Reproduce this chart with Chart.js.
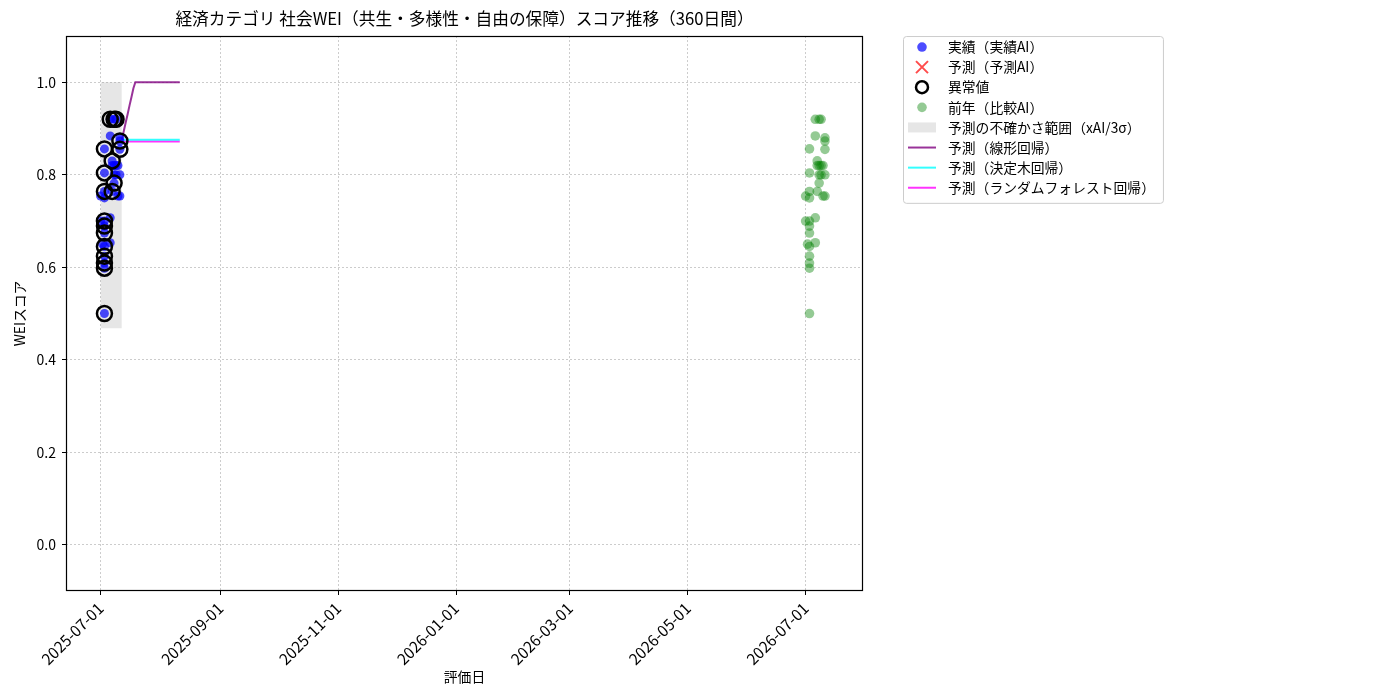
<!DOCTYPE html>
<html lang="ja">
<head>
<meta charset="UTF-8" />
<title>社会WEI スコア推移</title>
<script src="https://cdn.jsdelivr.net/npm/chart.js"></script>
<style>
  body { margin: 0; background: #fff; }
</style>
</head>
<body>
<canvas id="weiChart" width="1400" height="700"></canvas>
<script>
const DAY = 86400000;
function toDay(s) { return Date.parse(s + "T00:00:00Z") / DAY; }
function fmtDay(v) { return new Date(Math.round(v) * DAY).toISOString().slice(0, 10); }

// 実績（実績AI）
const actualDates = [
  "2025-07-01", "2025-07-01", "2025-07-02",
  "2025-07-03", "2025-07-03", "2025-07-03", "2025-07-03", "2025-07-03", "2025-07-03",
  "2025-07-03", "2025-07-03", "2025-07-03", "2025-07-03", "2025-07-03", "2025-07-03",
  "2025-07-06", "2025-07-06", "2025-07-06", "2025-07-06",
  "2025-07-07", "2025-07-07", "2025-07-07",
  "2025-07-08", "2025-07-08", "2025-07-08", "2025-07-08",
  "2025-07-09", "2025-07-09", "2025-07-09",
  "2025-07-10", "2025-07-10",
  "2025-07-11", "2025-07-11", "2025-07-11", "2025-07-11", "2025-07-11"
];
const actualValues = [
  0.754, 0.700, 0.650,
  0.856, 0.804, 0.764, 0.750, 0.700, 0.689,
  0.674, 0.645, 0.624, 0.609, 0.598, 0.500,
  0.707, 0.653, 0.884, 0.920,
  0.830, 0.764, 0.820,
  0.920, 0.800, 0.820, 0.782,
  0.920, 0.820, 0.800,
  0.754, 0.820,
  0.873, 0.855, 0.880, 0.800, 0.754
];
// 異常値フラグ
const outlierFlags = [
  0, 0, 0,
  1, 1, 1, 0, 1, 1,
  1, 1, 1, 1, 1, 1,
  0, 0, 0, 1,
  1, 1, 0,
  1, 0, 0, 1,
  1, 0, 0,
  0, 0,
  1, 1, 0, 0, 0
];

// 前年（比較AI）
const prevDates = [
  "2026-07-01", "2026-07-01", "2026-07-02",
  "2026-07-03", "2026-07-03", "2026-07-03", "2026-07-03", "2026-07-03", "2026-07-03",
  "2026-07-03", "2026-07-03", "2026-07-03", "2026-07-03", "2026-07-03", "2026-07-03",
  "2026-07-06", "2026-07-06", "2026-07-06", "2026-07-06",
  "2026-07-07", "2026-07-07", "2026-07-07",
  "2026-07-08", "2026-07-08", "2026-07-08", "2026-07-08",
  "2026-07-09", "2026-07-09", "2026-07-09",
  "2026-07-10", "2026-07-10",
  "2026-07-11", "2026-07-11", "2026-07-11", "2026-07-11", "2026-07-11"
];
const prevValues = [
  0.754, 0.700, 0.650,
  0.856, 0.804, 0.764, 0.750, 0.700, 0.689,
  0.674, 0.645, 0.624, 0.609, 0.598, 0.500,
  0.707, 0.653, 0.884, 0.920,
  0.830, 0.764, 0.820,
  0.920, 0.800, 0.820, 0.782,
  0.920, 0.820, 0.800,
  0.754, 0.820,
  0.873, 0.855, 0.880, 0.800, 0.754
];

// 予測（30日間）
const forecastDates = [
  "2025-07-12", "2025-07-13", "2025-07-14", "2025-07-15", "2025-07-16", "2025-07-17",
  "2025-07-18", "2025-07-19", "2025-07-20", "2025-07-21", "2025-07-22", "2025-07-23",
  "2025-07-24", "2025-07-25", "2025-07-26", "2025-07-27", "2025-07-28", "2025-07-29",
  "2025-07-30", "2025-07-31", "2025-08-01", "2025-08-02", "2025-08-03", "2025-08-04",
  "2025-08-05", "2025-08-06", "2025-08-07", "2025-08-08", "2025-08-09", "2025-08-10",
  "2025-08-11"
];
const linearPred = [
  0.876, 0.894, 0.913, 0.931, 0.950, 0.968,
  0.987, 1.000, 1.000, 1.000, 1.000, 1.000,
  1.000, 1.000, 1.000, 1.000, 1.000, 1.000,
  1.000, 1.000, 1.000, 1.000, 1.000, 1.000,
  1.000, 1.000, 1.000, 1.000, 1.000, 1.000,
  1.000
];
const treePred = [
  0.876, 0.876, 0.876, 0.876, 0.876, 0.876,
  0.876, 0.876, 0.876, 0.876, 0.876, 0.876,
  0.876, 0.876, 0.876, 0.876, 0.876, 0.876,
  0.876, 0.876, 0.876, 0.876, 0.876, 0.876,
  0.876, 0.876, 0.876, 0.876, 0.876, 0.876,
  0.876
];
const forestPred = [
  0.872, 0.872, 0.872, 0.872, 0.872, 0.872,
  0.872, 0.872, 0.872, 0.872, 0.872, 0.872,
  0.872, 0.872, 0.872, 0.872, 0.872, 0.872,
  0.872, 0.872, 0.872, 0.872, 0.872, 0.872,
  0.872, 0.872, 0.872, 0.872, 0.872, 0.872,
  0.872
];

// 予測の不確かさ範囲（xAI/3σ）
const bandDates = ["2025-07-01", "2025-07-12"];
const bandLower = [0.468, 0.468];
const bandUpper = [1.0, 1.0];

const xTickLabels = [
  "2025-07-01", "2025-09-01", "2025-11-01", "2026-01-01",
  "2026-03-01", "2026-05-01", "2026-07-01"
];
const yTickValues = [0.0, 0.2, 0.4, 0.6, 0.8, 1.0];

function points(dates, values) {
  return dates.map((d, i) => ({ x: toDay(d), y: values[i] }));
}

const actualPoints = points(actualDates, actualValues);
const outlierPoints = actualPoints.filter((p, i) => outlierFlags[i]);

Chart.defaults.font.family = '"Noto Sans CJK JP", "Noto Sans", sans-serif';
Chart.defaults.font.size = 14;
Chart.defaults.color = "#000";

const data = {
  datasets: [
    {
      label: "異常値",
      legendKind: "ring",
      data: outlierPoints,
      pointRadius: 7.5,
      pointHoverRadius: 7.5,
      pointBackgroundColor: "rgba(0,0,0,0)",
      pointBorderColor: "#000",
      pointBorderWidth: 2.5,
      order: 0,
    },
    {
      label: "実績（実績AI）",
      legendKind: "dot",
      data: actualPoints,
      pointRadius: 4.5,
      pointBackgroundColor: "rgba(0,0,255,0.7)",
      pointBorderColor: "rgba(0,0,255,0.7)",
      pointBorderWidth: 0,
      order: 1,
    },
    {
      label: "予測（予測AI）",
      legendKind: "cross",
      data: [],
      pointStyle: "crossRot",
      pointBorderColor: "rgba(255,0,0,0.7)",
      order: 2,
    },
    {
      label: "前年（比較AI）",
      legendKind: "dot",
      data: points(prevDates, prevValues),
      pointRadius: 4.8,
      pointBackgroundColor: "rgba(0,128,0,0.42)",
      pointBorderColor: "rgba(0,128,0,0.42)",
      pointBorderWidth: 0,
      order: 3,
    },
    {
      type: "line",
      label: "予測の不確かさ範囲上限",
      data: points(bandDates, bandUpper),
      borderWidth: 0,
      borderColor: "rgba(0,0,0,0)",
      pointRadius: 0,
      fill: false,
      order: 8,
    },
    {
      type: "line",
      label: "予測の不確かさ範囲（xAI/3σ）",
      legendKind: "rect",
      data: points(bandDates, bandLower),
      borderWidth: 0,
      borderColor: "rgba(0,0,0,0)",
      backgroundColor: "rgba(128,128,128,0.2)",
      pointRadius: 0,
      fill: "-1",
      order: 9,
    },
    {
      type: "line",
      label: "予測（線形回帰）",
      legendKind: "line",
      data: points(forecastDates, linearPred),
      borderColor: "rgba(128,0,128,0.8)",
      borderWidth: 2,
      pointRadius: 0,
      fill: false,
      order: 4,
    },
    {
      type: "line",
      label: "予測（決定木回帰）",
      legendKind: "line",
      data: points(forecastDates, treePred),
      borderColor: "rgba(0,255,255,0.8)",
      borderWidth: 2,
      pointRadius: 0,
      fill: false,
      order: 5,
    },
    {
      type: "line",
      label: "予測（ランダムフォレスト回帰）",
      legendKind: "line",
      data: points(forecastDates, forestPred),
      borderColor: "rgba(255,0,255,0.8)",
      borderWidth: 2,
      pointRadius: 0,
      fill: false,
      order: 6,
    },
  ],
};

// legend order as in the original figure
const legendOrder = [
  "実績（実績AI）", "予測（予測AI）", "異常値", "前年（比較AI）",
  "予測の不確かさ範囲（xAI/3σ）", "予測（線形回帰）", "予測（決定木回帰）",
  "予測（ランダムフォレスト回帰）"
];

const frameAndLegend = {
  id: "frameAndLegend",
  afterDraw(chart) {
    const ctx = chart.ctx;
    const area = chart.chartArea;

    // box around the plot (all four sides)
    ctx.save();
    ctx.strokeStyle = "#000";
    ctx.lineWidth = 1.2;
    ctx.strokeRect(Math.round(area.left) + 0.5, Math.round(area.top) + 0.5,
      Math.round(area.right - area.left) - 1, Math.round(area.bottom - area.top) - 1);
    ctx.restore();

    // legend outside on the right
    const items = legendOrder.map((name) => chart.data.datasets.find((ds) => ds.label === name));
    ctx.save();
    ctx.font = "13.8px " + Chart.defaults.font.family;
    let maxW = 0;
    items.forEach((ds) => { maxW = Math.max(maxW, ctx.measureText(ds.label).width); });
    const x0 = area.right + 40, y0 = area.top;
    const rowH = 20.1;
    const w = 45 + maxW + 8, h = items.length * rowH + 6;

    ctx.fillStyle = "rgba(255,255,255,0.8)";
    ctx.strokeStyle = "#cccccc";
    ctx.lineWidth = 1;
    ctx.beginPath();
    ctx.roundRect(x0 + 0.5, y0 + 0.5, w, h, 3);
    ctx.fill();
    ctx.stroke();

    items.forEach((ds, i) => {
      const cy = y0 + 11 + i * rowH;
      const cx = x0 + 19;
      ctx.save();
      if (ds.legendKind === "dot") {
        ctx.fillStyle = ds.pointBackgroundColor;
        ctx.beginPath();
        ctx.arc(cx, cy, 4.8, 0, Math.PI * 2);
        ctx.fill();
      } else if (ds.legendKind === "ring") {
        ctx.strokeStyle = ds.pointBorderColor;
        ctx.lineWidth = 2.5;
        ctx.beginPath();
        ctx.arc(cx, cy, 6, 0, Math.PI * 2);
        ctx.stroke();
      } else if (ds.legendKind === "cross") {
        ctx.strokeStyle = ds.pointBorderColor;
        ctx.lineWidth = 2;
        ctx.beginPath();
        ctx.moveTo(cx - 6, cy - 6); ctx.lineTo(cx + 6, cy + 6);
        ctx.moveTo(cx + 6, cy - 6); ctx.lineTo(cx - 6, cy + 6);
        ctx.stroke();
      } else if (ds.legendKind === "rect") {
        ctx.fillStyle = ds.backgroundColor;
        ctx.fillRect(x0 + 5, cy - 5, 28, 10);
      } else {
        ctx.strokeStyle = ds.borderColor;
        ctx.lineWidth = 2;
        ctx.beginPath();
        ctx.moveTo(x0 + 5, cy);
        ctx.lineTo(x0 + 33, cy);
        ctx.stroke();
      }
      ctx.restore();
      ctx.fillStyle = "#000";
      ctx.textBaseline = "middle";
      ctx.fillText(ds.label, x0 + 45, cy);
    });
    ctx.restore();
  },
};

const config = {
  type: "scatter",
  data: data,
  options: {
    responsive: false,
    animation: false,
    devicePixelRatio: 1,
    layout: { padding: { top: 0, right: 537, bottom: 0, left: 0 } },
    plugins: {
      legend: { display: false },
      tooltip: { enabled: false },
      title: {
        display: true,
        fullSize: false,
        text: "経済カテゴリ 社会WEI（共生・多様性・自由の保障）スコア推移（360日間）",
        font: { size: 16.7, weight: "normal" },
        color: "#000",
        padding: { top: 9, bottom: 7 },
      },
    },
    scales: {
      x: {
        type: "linear",
        min: toDay("2025-07-01") - 17.9,
        max: toDay("2026-07-01") + 29.7,
        afterBuildTicks: (scale) => {
          scale.ticks = xTickLabels.map((s) => ({ value: toDay(s) }));
        },
        afterFit: (scale) => { scale.height = 109; },
        ticks: {
          minRotation: 45,
          maxRotation: 45,
          autoSkip: false,
          padding: 4,
          font: { size: 15.5 },
          callback: (v) => fmtDay(v),
        },
        grid: { color: "#cccccc", tickColor: "#000", tickLength: 4 },
        border: { display: false, dash: [2, 2] },
        title: { display: true, text: "評価日", font: { size: 13.8 }, padding: { top: 0, bottom: 15 } },
      },
      y: {
        min: -0.1,
        max: 1.1,
        afterBuildTicks: (scale) => {
          scale.ticks = yTickValues.map((v) => ({ value: v }));
        },
        afterFit: (scale) => { scale.width = 66; },
        ticks: { padding: 6, callback: (v) => v.toFixed(1) },
        grid: { color: "#cccccc", tickColor: "#000", tickLength: 4 },
        border: { display: false, dash: [2, 2] },
        title: { display: true, text: "WEIスコア", font: { size: 13.8 }, padding: { top: 11, bottom: 4 } },
      },
    },
  },
  plugins: [frameAndLegend],
};

document.addEventListener("DOMContentLoaded", function () {
  const ctx = document.getElementById("weiChart").getContext("2d");
  new Chart(ctx, config);
});
</script>
</body>
</html>
